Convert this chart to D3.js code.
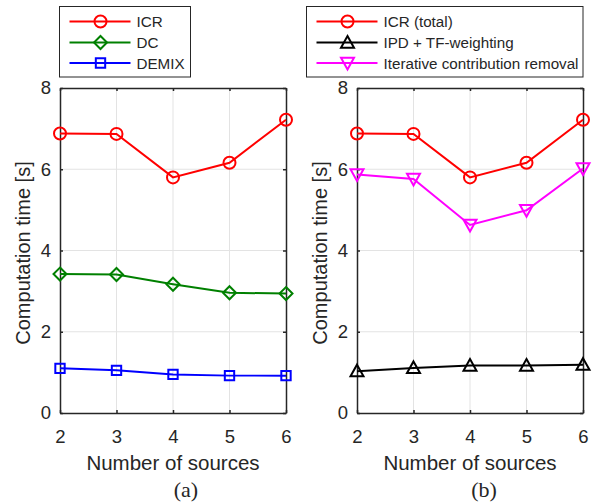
<!DOCTYPE html>
<html>
<head>
<meta charset="utf-8">
<script src="https://cdn.jsdelivr.net/npm/d3@7"></script>
<style>
  body { margin: 0; background: #fff; }
  text { font-family: "Liberation Sans", Arial, sans-serif; fill: #262626; }
</style>
</head>
<body>
<script>
// ---------------- data ----------------
const sources = [2, 3, 4, 5, 6];
const yTicks = [0, 2, 4, 6, 8];
const icr = [6.88, 6.87, 5.80, 6.16, 7.22];
const dc = [3.42, 3.41, 3.17, 2.96, 2.94];
const demix = [1.10, 1.05, 0.95, 0.92, 0.92];
const ipd = [1.03, 1.11, 1.17, 1.17, 1.19];
const iterRemoval = [5.87, 5.76, 4.63, 4.99, 6.02];

const width = 592, height = 504;

const svg = d3.select('body').append('svg')
  .attr('width', width)
  .attr('height', height);

// marker shapes, centred on bounding box
function markerPath(kind, s) {
  if (kind === 'diamond') return `M0,${-s}L${s},0L0,${s}L${-s},0Z`;
  if (kind === 'square') return `M${-s * 0.78},${-s * 0.78}H${s * 0.78}V${s * 0.78}H${-s * 0.78}Z`;
  if (kind === 'up') return `M0,${-s}L${s},${s * 0.8}L${-s},${s * 0.8}Z`;
  if (kind === 'down') return `M0,${s}L${s},${-s * 0.8}L${-s},${-s * 0.8}Z`;
}

function drawMarker(g, kind, x, y, color) {
  if (kind === 'circle') {
    g.append('circle').attr('cx', x).attr('cy', y).attr('r', 6)
      .attr('fill', 'none').attr('stroke', color).attr('stroke-width', 2);
  } else {
    g.append('path').attr('transform', 'translate(' + x + ',' + y + ')')
      .attr('d', markerPath(kind, kind === 'square' ? 6 : 6.5))
      .attr('fill', 'none').attr('stroke', color).attr('stroke-width', 2);
  }
}

function panel(left, series, legend, caption) {
  const x0 = left, x1 = left + 226, yTop = 88, yBot = 413;
  const xScale = d3.scaleLinear().domain([2, 6]).range([x0, x1]);
  const yScale = d3.scaleLinear().domain([0, 8]).range([yBot, yTop]);
  const g = svg.append('g');

  // grid
  g.selectAll('.gx').data(sources.slice(1, -1)).enter().append('line')
    .attr('x1', d => xScale(d)).attr('x2', d => xScale(d))
    .attr('y1', yTop).attr('y2', yBot)
    .attr('stroke', '#e3e3e3').attr('stroke-width', 1);
  g.selectAll('.gy').data(yTicks.slice(1, -1)).enter().append('line')
    .attr('y1', d => yScale(d)).attr('y2', d => yScale(d))
    .attr('x1', x0).attr('x2', x1)
    .attr('stroke', '#e3e3e3').attr('stroke-width', 1);

  // axes
  const ax = (axis, tr) => {
    const a = g.append('g').attr('transform', tr).call(axis);
    a.selectAll('path, line').attr('stroke', '#262626').attr('stroke-width', 1.5);
    a.selectAll('text').style('font-size', '18.5px').attr('fill', '#262626')
      .style('font-family', '"Liberation Sans", Arial, sans-serif');
    return a;
  };
  ax(d3.axisBottom(xScale).tickValues(sources).tickFormat(d3.format('d'))
       .tickSizeInner(-3).tickSizeOuter(0).tickPadding(17),
     'translate(0,' + yBot + ')');
  ax(d3.axisLeft(yScale).tickValues(yTicks).tickFormat(d3.format('d'))
       .tickSizeInner(-3).tickSizeOuter(0).tickPadding(9),
     'translate(' + x0 + ',0)');
  ax(d3.axisTop(xScale).tickValues(sources).tickSizeInner(-3).tickSizeOuter(0).tickFormat(''),
     'translate(0,' + yTop + ')');
  ax(d3.axisRight(yScale).tickValues(yTicks).tickSizeInner(-3).tickSizeOuter(0).tickFormat(''),
     'translate(' + x1 + ',0)');

  // axis labels
  g.append('text')
    .attr('x', (x0 + x1) / 2).attr('y', 470)
    .attr('text-anchor', 'middle').style('font-size', '20.5px')
    .text('Number of sources');
  g.append('text')
    .attr('transform', 'translate(' + (x0 - 30) + ',253) rotate(-90)')
    .attr('text-anchor', 'middle').style('font-size', '20px')
    .text('Computation time [s]');
  g.append('text')
    .attr('x', caption.x).attr('y', 497)
    .attr('text-anchor', 'middle')
    .style('font-family', '"Liberation Serif", "Times New Roman", serif')
    .style('font-size', '22px').attr('fill', '#000')
    .text(caption.text);

  // lines
  const line = d3.line()
    .x((d, i) => xScale(sources[i]))
    .y(d => yScale(d));
  series.forEach(s => {
    g.append('path').datum(s.values)
      .attr('d', line).attr('fill', 'none')
      .attr('stroke', s.color).attr('stroke-width', 2);
    s.values.forEach((v, i) => drawMarker(g, s.marker, xScale(sources[i]), yScale(v), s.color));
  });

  // legend
  const lg = svg.append('g');
  lg.append('rect')
    .attr('x', legend.x).attr('y', 6.5)
    .attr('width', legend.w).attr('height', 70.5)
    .attr('fill', '#fff').attr('stroke', '#262626').attr('stroke-width', 1);
  const rows = [21.5, 42.5, 63];
  series.forEach((s, i) => {
    const ly = rows[i];
    lg.append('line')
      .attr('x1', legend.x + 10).attr('x2', legend.x + 71)
      .attr('y1', ly).attr('y2', ly)
      .attr('stroke', s.color).attr('stroke-width', 2);
    drawMarker(lg, s.marker, legend.x + 41, ly, s.color);
    lg.append('text')
      .attr('x', legend.x + 77).attr('y', ly + 5.6)
      .style('font-size', '15.2px').attr('fill', '#000')
      .text(s.name);
  });
}

panel(60, [
  { name: 'ICR', values: icr, color: '#ff0000', marker: 'circle' },
  { name: 'DC', values: dc, color: '#008000', marker: 'diamond' },
  { name: 'DEMIX', values: demix, color: '#0000ff', marker: 'square' }
], { x: 59.5, w: 131 }, { x: 186, text: '(a)' });

panel(357, [
  { name: 'ICR (total)', values: icr, color: '#ff0000', marker: 'circle' },
  { name: 'IPD + TF-weighting', values: ipd, color: '#000000', marker: 'up' },
  { name: 'Iterative contribution removal', values: iterRemoval, color: '#ff00ff', marker: 'down' }
], { x: 306.5, w: 276.5 }, { x: 484, text: '(b)' });
</script>
</body>
</html>
